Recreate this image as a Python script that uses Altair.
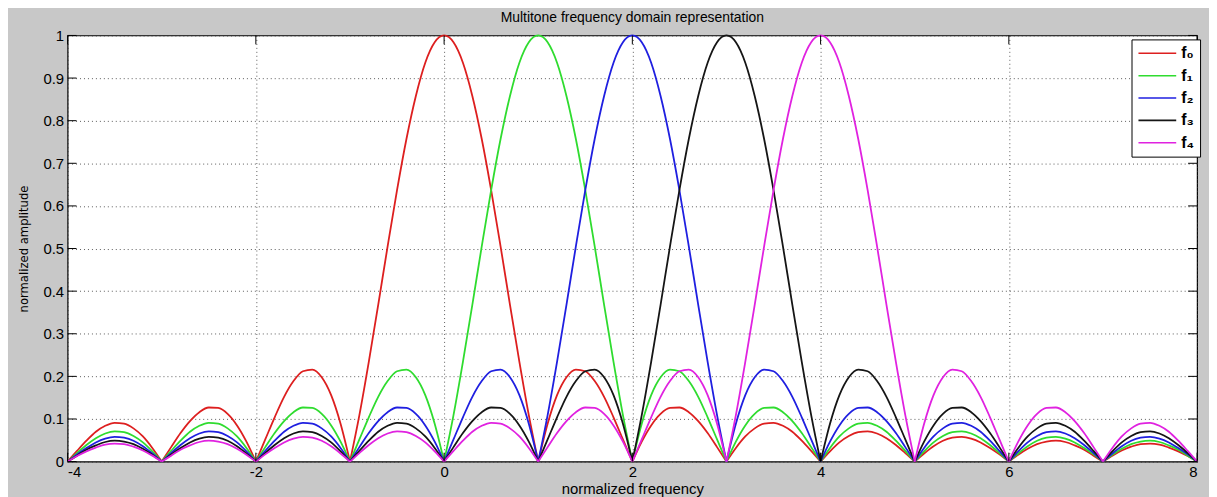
import altair as alt
import pandas as pd

# sample positions (normalized frequency), -4 .. 8 in steps of 0.1
X = [round(-4 + i / 10, 1) for i in range(121)]

SERIES = ["f\u2080", "f\u2081", "f\u2082", "f\u2083", "f\u2084"]
COLORS = ["#dd1f1f", "#2fdc2f", "#1f1fe0", "#151515", "#e022e0"]

f0 = [
    0, .025, .049, .070, .084, .091, .089, .078, .059, .032,
    0, .034, .067, .095, .116, .127, .126, .112, .085, .047,
    0, .052, .104, .152, .189, .212, .216, .198, .156, .089,
    0, .109, .234, .368, .505, .637, .757, .858, .936, .984,
    1, .984, .936, .858, .757, .637, .505, .368, .234, .109,
    0, .089, .156, .198, .216, .212, .189, .152, .104, .052,
    0, .047, .085, .112, .126, .127, .116, .095, .067, .034,
    0, .032, .059, .078, .089, .091, .084, .070, .049, .025,
    0, .024, .045, .060, .069, .071, .066, .055, .039, .020,
    0, .019, .036, .049, .056, .058, .054, .045, .032, .017,
    0, .016, .030, .041, .047, .049, .046, .038, .028, .014,
    0, .014, .026, .035, .041, .042, .040, .033, .024, .013,
    0]

f1 = [
    0, .020, .039, .055, .066, .071, .069, .060, .045, .024,
    0, .025, .049, .070, .084, .091, .089, .078, .059, .032,
    0, .034, .067, .095, .116, .127, .126, .112, .085, .047,
    0, .052, .104, .152, .189, .212, .216, .198, .156, .089,
    0, .109, .234, .368, .505, .637, .757, .858, .936, .984,
    1, .984, .936, .858, .757, .637, .505, .368, .234, .109,
    0, .089, .156, .198, .216, .212, .189, .152, .104, .052,
    0, .047, .085, .112, .126, .127, .116, .095, .067, .034,
    0, .032, .059, .078, .089, .091, .084, .070, .049, .025,
    0, .024, .045, .060, .069, .071, .066, .055, .039, .020,
    0, .019, .036, .049, .056, .058, .054, .045, .032, .017,
    0, .016, .030, .041, .047, .049, .046, .038, .028, .014,
    0]

f2 = [
    0, .017, .032, .045, .054, .058, .056, .049, .036, .019,
    0, .020, .039, .055, .066, .071, .069, .060, .045, .024,
    0, .025, .049, .070, .084, .091, .089, .078, .059, .032,
    0, .034, .067, .095, .116, .127, .126, .112, .085, .047,
    0, .052, .104, .152, .189, .212, .216, .198, .156, .089,
    0, .109, .234, .368, .505, .637, .757, .858, .936, .984,
    1, .984, .936, .858, .757, .637, .505, .368, .234, .109,
    0, .089, .156, .198, .216, .212, .189, .152, .104, .052,
    0, .047, .085, .112, .126, .127, .116, .095, .067, .034,
    0, .032, .059, .078, .089, .091, .084, .070, .049, .025,
    0, .024, .045, .060, .069, .071, .066, .055, .039, .020,
    0, .019, .036, .049, .056, .058, .054, .045, .032, .017,
    0]

f3 = [
    0, .014, .028, .038, .046, .049, .047, .041, .030, .016,
    0, .017, .032, .045, .054, .058, .056, .049, .036, .019,
    0, .020, .039, .055, .066, .071, .069, .060, .045, .024,
    0, .025, .049, .070, .084, .091, .089, .078, .059, .032,
    0, .034, .067, .095, .116, .127, .126, .112, .085, .047,
    0, .052, .104, .152, .189, .212, .216, .198, .156, .089,
    0, .109, .234, .368, .505, .637, .757, .858, .936, .984,
    1, .984, .936, .858, .757, .637, .505, .368, .234, .109,
    0, .089, .156, .198, .216, .212, .189, .152, .104, .052,
    0, .047, .085, .112, .126, .127, .116, .095, .067, .034,
    0, .032, .059, .078, .089, .091, .084, .070, .049, .025,
    0, .024, .045, .060, .069, .071, .066, .055, .039, .020,
    0]

f4 = [
    0, .013, .024, .033, .040, .042, .041, .035, .026, .014,
    0, .014, .028, .038, .046, .049, .047, .041, .030, .016,
    0, .017, .032, .045, .054, .058, .056, .049, .036, .019,
    0, .020, .039, .055, .066, .071, .069, .060, .045, .024,
    0, .025, .049, .070, .084, .091, .089, .078, .059, .032,
    0, .034, .067, .095, .116, .127, .126, .112, .085, .047,
    0, .052, .104, .152, .189, .212, .216, .198, .156, .089,
    0, .109, .234, .368, .505, .637, .757, .858, .936, .984,
    1, .984, .936, .858, .757, .637, .505, .368, .234, .109,
    0, .089, .156, .198, .216, .212, .189, .152, .104, .052,
    0, .047, .085, .112, .126, .127, .116, .095, .067, .034,
    0, .032, .059, .078, .089, .091, .084, .070, .049, .025,
    0]

X_TICKS = [-4, -2, 0, 2, 4, 6, 8]
Y_TICKS = [0, 0.1, 0.2, 0.3, 0.4, 0.5, 0.6, 0.7, 0.8, 0.9, 1]

W, H = 1137, 429
TICK = 9

# build rows; each lobe (between zeros) is its own path so the cusps stay sharp
rows = []
for order, (name, vals) in enumerate(zip(SERIES, [f0, f1, f2, f3, f4])):
    seg = 0
    for i, (x, y) in enumerate(zip(X, vals)):
        rows.append({"s": name, "x": x, "y": y, "lobe": f"{order}-{seg}", "o": order})
        if y == 0 and 0 < i < len(X) - 1:
            seg += 1
            rows.append({"s": name, "x": x, "y": y, "lobe": f"{order}-{seg}", "o": order})
df = pd.DataFrame(rows)

xs = alt.Scale(domain=[-4, 8], nice=False, zero=False)
ys = alt.Scale(domain=[0, 1], nice=False)

x_axis = alt.Axis(values=X_TICKS, title="normalized frequency", labelExpr="'' + datum.value",
                  grid=True, ticks=False, domain=False, labelPadding=3,
                  titlePadding=2)
y_axis = alt.Axis(values=Y_TICKS, title="normalized amplitude", labelExpr="'' + datum.value",
                  grid=True, ticks=False, domain=False, labelPadding=4,
                  titlePadding=13,
                  titleFont="Liberation Sans Narrow, Arial Narrow, DejaVu Sans Condensed, Liberation Sans, sans-serif",
                  titleFontSize=13, titleFontWeight="normal")

X_ENC = alt.X("x:Q", scale=xs, axis=x_axis)
Y_ENC = alt.Y("y:Q", scale=ys, axis=y_axis)

lines = alt.Chart(df).mark_line(strokeWidth=1.8, interpolate="monotone").encode(
    x=X_ENC,
    y=Y_ENC,
    color=alt.Color("s:N", scale=alt.Scale(domain=SERIES, range=COLORS),
                    legend=alt.Legend(title=None, orient="none", legendX=W - 66, legendY=4,
                                      symbolType="stroke", symbolSize=1444,
                                      symbolStrokeWidth=1.6, clipHeight=16,
                                      rowPadding=6.5, labelFontSize=16,
                                      labelFontWeight="bold", labelOffset=4,
                                      padding=6, fillColor="white",
                                      strokeColor="black")),
    detail="lobe:N",
    order=alt.Order("o:Q"),
)

ydf = pd.DataFrame({"y": Y_TICKS})
xdf = pd.DataFrame({"x": X_TICKS})

ytick_l = alt.Chart(ydf).mark_rule(color="black", strokeWidth=1).encode(
    y=Y_ENC, x=alt.value(0), x2=alt.value(TICK))
ytick_r = alt.Chart(ydf).mark_rule(color="black", strokeWidth=1).encode(
    y=Y_ENC, x=alt.value(W - TICK), x2=alt.value(W))
xtick_b = alt.Chart(xdf).mark_rule(color="black", strokeWidth=1).encode(
    x=X_ENC, y=alt.value(H - TICK), y2=alt.value(H))
xtick_t = alt.Chart(xdf).mark_rule(color="black", strokeWidth=1).encode(
    x=X_ENC, y=alt.value(0), y2=alt.value(TICK))

chart = alt.layer(lines, ytick_l, ytick_r, xtick_b, xtick_t).properties(
    width=W, height=H,
    title=alt.TitleParams("Multitone frequency domain representation", fontSize=14,
                          font="Liberation Sans", fontWeight="normal", color="black",
                          offset=4),
    autosize=alt.AutoSizeParams(type="none"),
    padding={"left": 60, "top": 26, "right": 12, "bottom": 34},
).configure(background="#c8c8c8").configure_view(
    fill="white", stroke="black", strokeWidth=1.2
).configure_axis(
    labelFont="Liberation Sans", labelFontSize=15, labelColor="black",
    titleFont="Liberation Sans", titleFontSize=15, titleColor="black",
    titleFontWeight="normal", gridColor="#333333", gridDash=[1, 3], gridWidth=1,
    gridOpacity=0.8,
).configure_legend(labelFont="Liberation Sans", labelColor="black")

chart.save("out.html", embed_options={"renderer": "svg", "actions": False})
